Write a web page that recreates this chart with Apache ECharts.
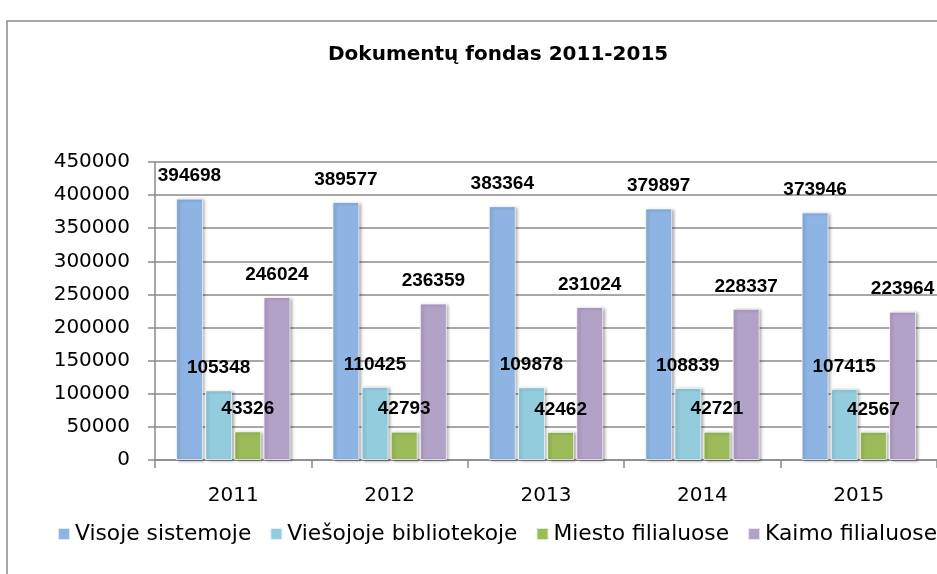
<!DOCTYPE html>
<html>
<head>
<meta charset="utf-8">
<title>Dokumentų fondas 2011-2015</title>
<script src="https://cdn.jsdelivr.net/npm/echarts@6/dist/echarts.min.js"></script>
<style>
    html, body { margin: 0; padding: 0; background: #fff; }
    #main { width: 937px; height: 574px; }
</style>
</head>
<body>
<div id="main"></div>
<script>
// duomenys
const years = ["2011", "2012", "2013", "2014", "2015"];
const seriesNames = ["Visoje sistemoje", "Viešojoje bibliotekoje", "Miesto filialuose", "Kaimo filialuose"];
const visoje = [394698, 389577, 383364, 379897, 373946];
const viesojoje = [105348, 110425, 109878, 108839, 107415];
const miesto = [43326, 42793, 42462, 42721, 42567];
const kaimo = [246024, 236359, 231024, 228337, 223964];
const yTicks = { min: 0, max: 450000, interval: 50000 };

const colors = ["#8EB4E3", "#93CDDD", "#9BBB59", "#B3A2C7"];
const axisFont = "DejaVu Sans";

const myChart = echarts.init(document.getElementById("main"));

const makeSeries = (name, data, color) => {
    return {
        type: "bar",
        name: name,
        data: data,
        barWidth: 27,
        barGap: "8%",
        itemStyle: {
            color: color,
            borderColor: "rgba(255,255,255,0.7)",
            borderWidth: 1,
            shadowColor: "rgba(0,0,0,0.35)",
            shadowBlur: 3,
            shadowOffsetX: 2,
            shadowOffsetY: 1,
        },
        label: {
            show: true,
            position: "top",
            distance: 13,
            color: "#000",
            fontFamily: "Liberation Sans",
            fontWeight: "bold",
            fontSize: 19,
        },
    };
};

const initOption = {
    animation: false,
    backgroundColor: "#fff",
    color: colors,
    title: {
        text: "Dokumentų fondas 2011-2015",
        left: 323,
        top: 40,
        textStyle: {
            color: "#000",
            fontFamily: axisFont,
            fontWeight: "bold",
            fontSize: 20,
        },
    },
    // rėmelis aplink diagramą
    graphic: [
        {
            type: "rect",
            shape: { x: 7, y: 21, width: 1000, height: 700 },
            style: { fill: null, stroke: "#8a8a8a", lineWidth: 1.5 },
            silent: true,
        },
    ],
    legend: {
        data: seriesNames,
        left: 52,
        top: 518,
        width: 1000,
        icon: "rect",
        itemWidth: 12,
        itemHeight: 12,
        itemGap: 18,
        textStyle: {
            color: "#000",
            fontFamily: axisFont,
            fontSize: 21.8,
        },
    },
    grid: {
        left: 155,
        top: 162,
        right: -8,
        bottom: 114,
        containLabel: false,
    },
    xAxis: {
        type: "category",
        data: years,
        axisLine: { lineStyle: { color: "#8a8a8a", width: 1.5 } },
        axisTick: { show: true, length: 8, lineStyle: { color: "#8a8a8a", width: 1.5 } },
        axisLabel: {
            margin: 26,
            color: "#000",
            fontFamily: axisFont,
            fontSize: 20,
        },
    },
    yAxis: {
        type: "value",
        min: yTicks.min,
        max: yTicks.max,
        interval: yTicks.interval,
        axisLine: { show: true, lineStyle: { color: "#8a8a8a", width: 1.5 } },
        axisTick: { show: true, length: 7, lineStyle: { color: "#8a8a8a", width: 1.5 } },
        splitLine: { lineStyle: { color: "#8a8a8a", width: 1.5 } },
        axisLabel: {
            margin: 25,
            color: "#000",
            fontFamily: axisFont,
            fontSize: 20,
            formatter: (v) => String(v),
        },
    },
    series: [
        makeSeries(seriesNames[0], visoje, colors[0]),
        makeSeries(seriesNames[1], viesojoje, colors[1]),
        makeSeries(seriesNames[2], miesto, colors[2]),
        makeSeries(seriesNames[3], kaimo, colors[3]),
    ],
};

myChart.setOption(initOption);
</script>
</body>
</html>
